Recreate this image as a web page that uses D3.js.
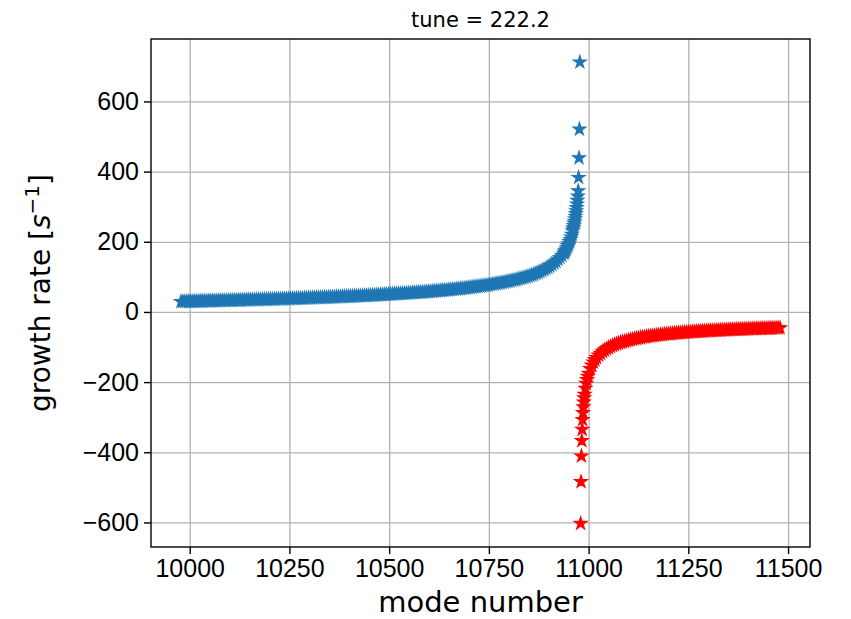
<!DOCTYPE html>
<html>
  <head>
    <meta charset="utf-8">
    <title>growth rate</title>
    <style>
      body { margin: 0; background: #fff; }
      svg { font-family: "DejaVu Sans", sans-serif; }
      .grid line { stroke: #b0b0b0; stroke-width: 1.3; }
      .grid path { display: none; }
      .axis path { display: none; }
      .axis line { stroke: #000; stroke-width: 1.4; }
      .axis text { font-size: 25px; fill: #000; }
      .frame { fill: none; stroke: #000; stroke-width: 1.4; }
    </style>
    <script src="https://cdn.jsdelivr.net/npm/d3@7"></script>
  </head>
  <body>
    <svg id="chart" width="851" height="619"></svg>
    <script>
      // values
      var xTicks = [10000, 10250, 10500, 10750, 11000, 11250, 11500];
      var yTicks = [-600, -400, -200, 0, 200, 400, 600];

      // blue branch: modes 9978..10938 every 5, then denser towards the pole
      var blueStart = 9978;
      var blueStep = 5;
      var blueFar = [
        29.4, 29.5, 29.6, 29.8, 29.9, 30.0, 30.2, 30.3, 30.4, 30.6,
        30.7, 30.9, 31.0, 31.1, 31.3, 31.4, 31.5, 31.7, 31.8, 32.0,
        32.1, 32.3, 32.4, 32.6, 32.7, 32.9, 33.0, 33.2, 33.3, 33.5,
        33.6, 33.8, 33.9, 34.1, 34.2, 34.4, 34.5, 34.7, 34.8, 35.0,
        35.1, 35.3, 35.5, 35.7, 35.8, 36.0, 36.2, 36.4, 36.5, 36.7,
        36.9, 37.1, 37.3, 37.5, 37.6, 37.8, 38.0, 38.2, 38.4, 38.6,
        38.8, 39.0, 39.2, 39.4, 39.6, 39.9, 40.1, 40.3, 40.5, 40.7,
        40.9, 41.1, 41.3, 41.6, 41.8, 42.0, 42.2, 42.5, 42.7, 43.0,
        43.2, 43.5, 43.7, 44.0, 44.2, 44.5, 44.7, 45.0, 45.2, 45.5,
        45.8, 46.1, 46.3, 46.6, 46.9, 47.2, 47.5, 47.8, 48.1, 48.4,
        48.7, 49.1, 49.4, 49.8, 50.1, 50.5, 50.8, 51.2, 51.5, 51.9,
        52.2, 52.6, 52.9, 53.3, 53.6, 54.0, 54.4, 54.8, 55.2, 55.6,
        56.0, 56.4, 56.8, 57.3, 57.8, 58.3, 58.7, 59.2, 59.7, 60.2,
        60.7, 61.2, 61.7, 62.3, 62.8, 63.4, 64.0, 64.5, 65.0, 65.6,
        66.2, 66.9, 67.5, 68.3, 69.0, 69.8, 70.5, 71.3, 72.0, 72.7,
        73.3, 74.2, 75.0, 75.7, 76.5, 77.5, 78.5, 79.5, 80.5, 81.5,
        82.5, 83.5, 84.5, 85.7, 87.0, 88.2, 89.5, 90.7, 92.0, 93.5,
        95.0, 96.5, 98.0, 99.7, 101.5, 103.5, 105.5, 107.7, 110.0, 112.5,
        115.0, 118.0, 121.0, 124.0, 127.0, 131.0, 135.0, 139.5, 144.0, 149.5,
        155.0, 161.0, 167.0
      ];
      var bluePoleModes = [
        10940, 10942, 10944, 10946, 10948, 10950, 10952, 10954, 10956, 10958,
        10960, 10961, 10962, 10963, 10964, 10965, 10966, 10967, 10968, 10969,
        10970, 10971, 10972, 10973, 10974, 10975, 10976, 10977, 10978
      ];
      var bluePoleRates = [
        171, 175, 179, 184, 189, 194, 200, 206, 213, 221,
        230, 235, 240, 246, 252, 258, 265, 272, 280, 288,
        297, 307, 318, 330, 345, 383, 439, 521, 712
      ];

      // red branch: dense next to the pole, then every 5 up to 11480
      var redPoleModes = [
        10980, 10981, 10982, 10983, 10984, 10985, 10986, 10987, 10988, 10989,
        10990, 10992, 10994, 10996, 10998, 11000, 11004, 11008, 11012, 11016
      ];
      var redPoleRates = [
        -603, -484, -411, -367, -335, -307, -287, -271, -257, -245,
        -235, -218, -204, -193, -184, -175, -162, -152, -143, -136
      ];
      var redStart = 11020;
      var redStep = 5;
      var redFar = [
        -130, -123.1, -118, -112.8, -109, -104.9, -102, -98.6, -96, -93.4,
        -91, -89, -87, -85.5, -84, -82.5, -81, -79.5, -78, -76.7,
        -75.5, -74.4, -73.3, -72.3, -71.4, -70.5, -69.6, -68.8, -68.0, -67.2,
        -66.5, -65.8, -65.1, -64.4, -63.8, -63.2, -62.6, -62.0, -61.5, -60.9,
        -60.4, -59.9, -59.5, -59.0, -58.5, -58.1, -57.7, -57.2, -56.8, -56.4,
        -56.0, -55.6, -55.3, -54.9, -54.6, -54.2, -53.9, -53.5, -53.2, -52.9,
        -52.6, -52.3, -52.0, -51.7, -51.5, -51.2, -50.9, -50.6, -50.4, -50.1,
        -49.9, -49.6, -49.4, -49.2, -49.0, -48.7, -48.5, -48.3, -48.1, -47.9,
        -47.7, -47.4, -47.2, -47.0, -46.9, -46.7, -46.5, -46.3, -46.1, -45.9,
        -45.8, -45.6, -45.4
      ];

      var margin = {left: 151, right: 41, top: 39, bottom: 72};
      var width = 851 - margin.left - margin.right;
      var height = 619 - margin.top - margin.bottom;

      var svg = d3.select("#chart");
      var g = svg.append("g")
                 .attr("transform", "translate(" + margin.left + "," + margin.top + ")");

      var xScale = d3.scaleLinear().domain([9903, 11555]).range([0, width]);
      var yScale = d3.scaleLinear().domain([-670, 778]).range([height, 0]);

      // grid
      g.append("g").attr("class", "grid")
       .attr("transform", "translate(0," + height + ")")
       .call(d3.axisBottom(xScale).tickValues(xTicks).tickSize(-height).tickFormat(""));
      g.append("g").attr("class", "grid")
       .call(d3.axisLeft(yScale).tickValues(yTicks).tickSize(-width).tickFormat(""));

      var blueData = blueFar.map(function(v, i) { return [blueStart + i * blueStep, v]; })
                            .concat(bluePoleModes.map(function(m, i) { return [m, bluePoleRates[i]]; }));
      var redData = redPoleModes.map(function(m, i) { return [m, redPoleRates[i]]; })
                                .concat(redFar.map(function(v, i) { return [redStart + i * redStep, v]; }));

      var star = d3.symbol().type(d3.symbolStar).size(50);

      function drawStars(data, colour) {
        g.append("g").selectAll("path")
         .data(data)
         .enter()
         .append("path")
         .attr("d", star)
         .attr("transform", function(d) {
           return "translate(" + xScale(d[0]) + "," + yScale(d[1]) + ")";
         })
         .attr("fill", colour)
         .attr("stroke", colour)
         .attr("stroke-width", 1.2);
      }
      drawStars(blueData, "#1f77b4");
      drawStars(redData, "#ff0000");

      // axes
      g.append("g").attr("class", "axis")
       .attr("transform", "translate(0," + height + ")")
       .call(d3.axisBottom(xScale).tickValues(xTicks).tickSize(7).tickPadding(5)
               .tickFormat(d3.format("d")));
      g.append("g").attr("class", "axis")
       .call(d3.axisLeft(yScale).tickValues(yTicks).tickSize(7).tickPadding(5)
               .tickFormat(function(d) { return d < 0 ? "\u2212" + Math.abs(d) : d; }));

      g.append("rect").attr("class", "frame")
       .attr("width", width).attr("height", height);

      // title and labels
      svg.append("text")
         .attr("x", margin.left + width / 2)
         .attr("y", 27)
         .attr("text-anchor", "middle")
         .style("font-size", "21px")
         .text("tune = 222.2");

      svg.append("text")
         .attr("x", margin.left + width / 2)
         .attr("y", 612)
         .attr("text-anchor", "middle")
         .style("font-size", "29px")
         .text("mode number");

      var yl = svg.append("text")
                  .attr("transform", "translate(50," + (margin.top + height / 2) + ") rotate(-90)")
                  .attr("text-anchor", "middle")
                  .style("font-size", "28px");
      yl.append("tspan").text("growth rate [");
      yl.append("tspan").style("font-style", "italic").text("s");
      yl.append("tspan").attr("dy", -11).style("font-size", "20px").text("\u22121");
      yl.append("tspan").attr("dy", 11).text("]");
    </script>
  </body>
</html>
